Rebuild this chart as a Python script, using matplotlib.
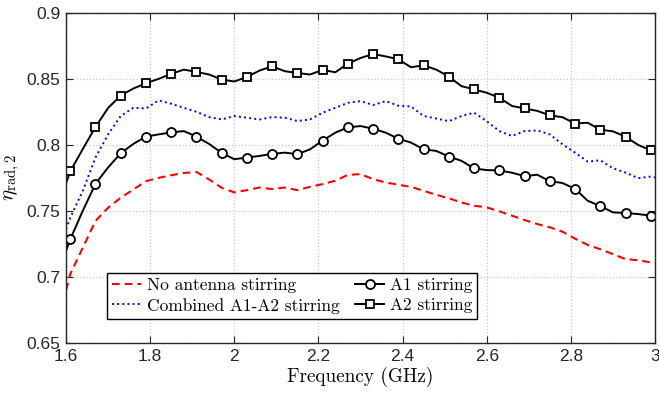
import matplotlib
matplotlib.use("Agg")
import matplotlib.pyplot as plt
from matplotlib.ticker import FuncFormatter

# --- Data (GHz, efficiency) ---
freq = [1.60, 1.61, 1.64, 1.67, 1.70, 1.73, 1.76, 1.79, 1.82, 1.85, 1.88, 1.91,
        1.94, 1.97, 2.00, 2.03, 2.06, 2.09, 2.12, 2.15, 2.18, 2.21, 2.24, 2.27,
        2.30, 2.33, 2.36, 2.39, 2.42, 2.45, 2.48, 2.51, 2.54, 2.57, 2.60, 2.63,
        2.66, 2.69, 2.72, 2.75, 2.78, 2.81, 2.84, 2.87, 2.90, 2.93, 2.96, 2.99,
        3.00]

no_stir = [0.6899, 0.7023, 0.7224, 0.7425, 0.7525, 0.7601, 0.7663, 0.7726, 0.7751,
           0.7771, 0.7788, 0.7796, 0.7739, 0.7676, 0.7641, 0.7658, 0.7678, 0.7666,
           0.7678, 0.7658, 0.7683, 0.7704, 0.7729, 0.7774, 0.7779, 0.7741, 0.7716,
           0.7699, 0.7683, 0.7653, 0.7623, 0.7596, 0.7565, 0.7540, 0.7528, 0.7498,
           0.7465, 0.7432, 0.7402, 0.7377, 0.7344, 0.7291, 0.7244, 0.7211, 0.7174,
           0.7136, 0.7128, 0.7111, 0.7108]

combined = [0.7364, 0.7450, 0.7653, 0.7905, 0.8080, 0.8219, 0.8281, 0.8276, 0.8337,
            0.8312, 0.8281, 0.8251, 0.8211, 0.8193, 0.8219, 0.8206, 0.8193, 0.8211,
            0.8206, 0.8181, 0.8193, 0.8244, 0.8281, 0.8319, 0.8332, 0.8302, 0.8332,
            0.8297, 0.8291, 0.8219, 0.8200, 0.8180, 0.8219, 0.8244, 0.8180, 0.8105,
            0.8068, 0.8105, 0.8110, 0.8080, 0.8005, 0.7942, 0.7874, 0.7884, 0.7824,
            0.7791, 0.7749, 0.7761, 0.7754]

a1_stir = [0.7200, 0.7286, 0.7503, 0.7706, 0.7830, 0.7937, 0.8008, 0.8063, 0.8080,
           0.8095, 0.8105, 0.8063, 0.8008, 0.7940, 0.7892, 0.7905, 0.7917, 0.7932,
           0.7942, 0.7930, 0.7967, 0.8033, 0.8093, 0.8133, 0.8143, 0.8123, 0.8093,
           0.8047, 0.8018, 0.7967, 0.7955, 0.7912, 0.7880, 0.7822, 0.7810, 0.7807,
           0.7790, 0.7764, 0.7775, 0.7726, 0.7712, 0.7668, 0.7578, 0.7538, 0.7490,
           0.7485, 0.7477, 0.7465, 0.7468]

a2_stir = [0.7710, 0.7800, 0.7970, 0.8136, 0.8280, 0.8374, 0.8427, 0.8467, 0.8500,
           0.8538, 0.8570, 0.8553, 0.8533, 0.8495, 0.8480, 0.8515, 0.8563, 0.8595,
           0.8558, 0.8545, 0.8533, 0.8568, 0.8550, 0.8615, 0.8658, 0.8688, 0.8670,
           0.8648, 0.8588, 0.8603, 0.8570, 0.8517, 0.8445, 0.8420, 0.8395, 0.8357,
           0.8295, 0.8276, 0.8258, 0.8224, 0.8210, 0.8162, 0.8168, 0.8116, 0.8103,
           0.8063, 0.8000, 0.7960, 0.7960]

xticks = [1.6, 1.8, 2.0, 2.2, 2.4, 2.6, 2.8, 3.0]
yticks = [0.65, 0.7, 0.75, 0.8, 0.85, 0.9]

# --- Plot ---
plt.rcParams['mathtext.fontset'] = 'cm'
serif = 'cmr10'

fig = plt.figure(figsize=(6.59, 4), dpi=100)
ax = fig.add_axes([0.1002, 0.142, 0.8937, 0.826])

ax.plot(freq, no_stir, color='red', linestyle='--', dashes=(3.7, 2.4),
        linewidth=1.5, label='No antenna stirring')
ax.plot(freq, combined, color='blue', linestyle=':', linewidth=1.4,
        label='Combined A1-A2 stirring')
ax.plot(freq, a1_stir, color='black', linewidth=1.4, marker='o', markersize=6.5,
        markerfacecolor='white', markeredgewidth=1.3, markevery=(1, 2),
        label='A1 stirring')
ax.plot(freq, a2_stir, color='black', linewidth=1.4, marker='s', markersize=5.8,
        markerfacecolor='white', markeredgewidth=1.3, markevery=(1, 2),
        label='A2 stirring')

ax.set_xlim(1.6, 3.0)
ax.set_ylim(0.65, 0.9)
ax.set_xticks(xticks)
ax.set_yticks(yticks)
fmt = FuncFormatter(lambda v, pos: '%g' % round(v, 3))
ax.xaxis.set_major_formatter(fmt)
ax.yaxis.set_major_formatter(fmt)
ax.tick_params(direction='in', length=5, width=0.8, top=True, right=True,
               labelsize=12.5, pad=4, colors='#262626', labelcolor='#262626')
for lab in ax.get_xticklabels() + ax.get_yticklabels():
    lab.set_family('Liberation Sans')
for sp in ax.spines.values():
    sp.set_linewidth(1.0)
    sp.set_color('#262626')

ax.grid(True, linestyle=':', color='#c8c8c8', linewidth=0.9)
ax.set_axisbelow(True)

ax.set_xlabel('Frequency (GHz)', family=serif, fontsize=13.8, labelpad=2)
ax.set_ylabel(r'$\eta_{\mathrm{rad},2}$', fontsize=15, labelpad=3)

leg = ax.legend(loc='lower left', bbox_to_anchor=(0.069, 0.074), borderaxespad=0,
                ncol=2, prop={'family': serif, 'size': 12.5}, handlelength=1.7,
                handletextpad=0.3, columnspacing=0.9, labelspacing=0.25,
                borderpad=0.3, fancybox=False, framealpha=1, edgecolor='black')
leg.get_frame().set_linewidth(1.0)

fig.savefig('out.png', dpi=100)
